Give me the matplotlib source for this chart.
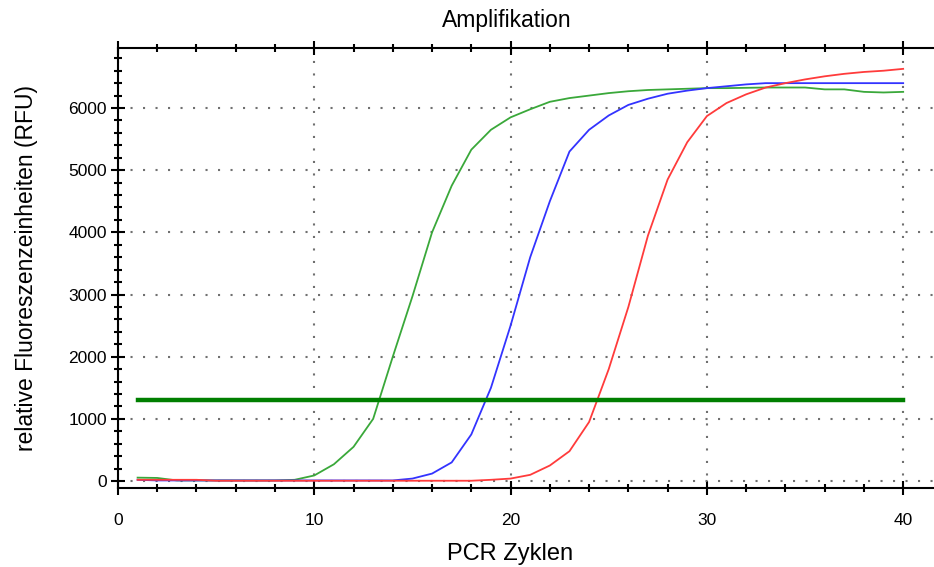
import matplotlib.pyplot as plt
from matplotlib.ticker import MultipleLocator

plt.rcParams["font.family"] = ["Liberation Sans", "DejaVu Sans"]

cycles = list(range(1, 41))

green = [
    55, 50, 10, 10, 10, 10, 10, 10, 20, 90,
    270, 550, 1000, 2000, 2970, 4000, 4750, 5330, 5650, 5850,
    5980, 6100, 6160, 6200, 6240, 6270, 6290, 6300, 6310, 6320,
    6320, 6325, 6330, 6330, 6330, 6300, 6300, 6260, 6250, 6260,
]

blue = [
    20, 10, 10, 10, 10, 10, 10, 10, 10, 10,
    10, 10, 10, 10, 40, 120, 300, 750, 1500, 2500,
    3600, 4500, 5300, 5650, 5880, 6050, 6150, 6230, 6280, 6320,
    6350, 6380, 6400, 6400, 6400, 6400, 6400, 6400, 6400, 6400,
]

red = [
    20, 20, 20, 20, 5, 5, 5, 5, 5, 5,
    5, 5, 5, 5, 5, 5, 5, 5, 20, 40,
    100, 250, 480, 950, 1800, 2800, 3950, 4850, 5450, 5870,
    6080, 6220, 6330, 6400, 6460, 6510, 6550, 6580, 6600, 6630,
]

threshold = 1300
threshold_x = [1, 40]

fig = plt.figure(figsize=(9.34, 5.67), dpi=100)
ax = fig.add_axes([0.1263, 0.1393, 0.8737, 0.776])

ax.plot(cycles, green, color="#3aa83a", linewidth=1.3)
ax.plot(cycles, blue, color="#3333ff", linewidth=1.3)
ax.plot(cycles, red, color="#ff3b3b", linewidth=1.3)
ax.plot(threshold_x, [threshold, threshold], color="#007f00", linewidth=3.2)

ax.set_xlim(0, 41.57)
ax.set_ylim(-112, 6965)

ax.xaxis.set_major_locator(MultipleLocator(10))
ax.xaxis.set_minor_locator(MultipleLocator(2))
ax.yaxis.set_major_locator(MultipleLocator(1000))
ax.yaxis.set_minor_locator(MultipleLocator(200))

ax.grid(True, which="major", color="#707070", linestyle=(0, (1, 5)), linewidth=1.5)

ax.spines["right"].set_visible(False)
for side in ["left", "top", "bottom"]:
    ax.spines[side].set_linewidth(1.5)

ax.tick_params(axis="both", which="major", direction="inout", length=10, width=1.5,
               labelsize=12.5, top=True)
ax.tick_params(axis="both", which="minor", direction="inout", length=6, width=1.5, top=True)
ax.tick_params(axis="x", which="both", pad=13)
ax.tick_params(axis="y", which="both", pad=3)

ax.set_title("Amplifikation", fontsize=16.5, x=0.477, pad=15)
ax.set_xlabel("PCR Zyklen", fontsize=17, x=0.48, labelpad=11)
ax.set_ylabel("relative Fluoreszenzeinheiten (RFU)", fontsize=16.5, labelpad=22)

fig.savefig("out.png", dpi=100)
